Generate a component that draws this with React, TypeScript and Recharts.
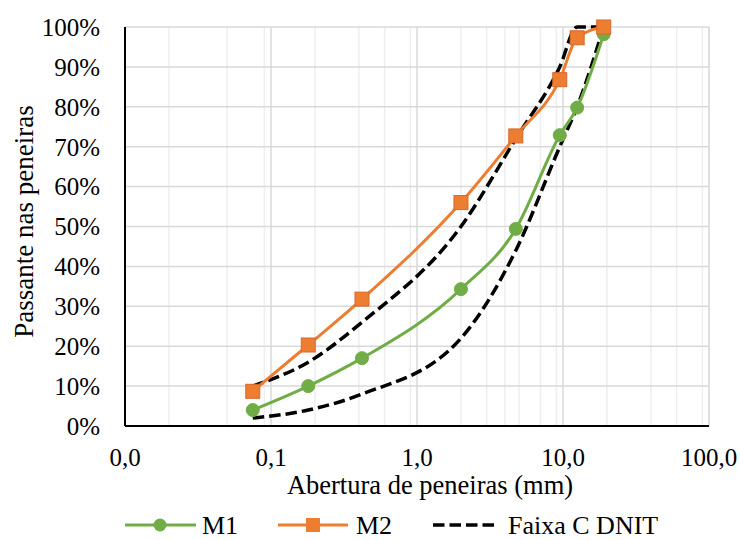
import { LineChart, Line, XAxis, YAxis, CartesianGrid, Legend } from 'recharts'

// Sieve openings (mm) and % passing
const sieves = [0.075, 0.18, 0.42, 2.0, 4.75, 9.5, 12.5, 19]
const m1 = [4, 10, 17, 34.3, 49.4, 72.9, 79.8, 98.2]
const m2 = [8.7, 20.3, 31.8, 56, 72.7, 86.8, 97.3, 100]
const faixaMin = [2, 4, 8, 22, 44, 70, 80, 100]
const faixaMax = [10, 16, 26, 50, 72, 90, 100, 100]

const xTicks = [0.01, 0.1, 1, 10, 100]
const minorTicks = [0.01, 0.1, 1, 10].flatMap((d) => [2, 3, 4, 5, 6, 7, 8, 9].map((k) => +(d * k).toPrecision(3)))
const yTicks = [0, 10, 20, 30, 40, 50, 60, 70, 80, 90, 100]

const GREEN = '#70AD47'
const ORANGE = '#ED7D31'
const FONT = "'Liberation Serif', 'Times New Roman', serif"

const data = sieves.map((x, i) => ({ x, m1: m1[i], m2: m2[i], min: faixaMin[i], max: faixaMax[i] }))

function SquareDot(props: any) {
  const { cx, cy } = props
  if (cx == null || cy == null) return null
  return <rect x={cx - 7} y={cy - 7} width={14} height={14} fill={ORANGE} stroke="#D8692A" strokeWidth={1} />
}

function LegendBox() {
  const y = 25
  const ts = { fontFamily: FONT, fontSize: 26 }
  return (
    <svg width={740} height={40} style={{ display: 'block' }}>
      <line x1={125} x2={196} y1={y} y2={y} stroke={GREEN} strokeWidth={3} />
      <circle cx={160} cy={y} r={6.5} fill={GREEN} />
      <text x={202} y={y + 9} style={ts}>M1</text>
      <line x1={278} x2={348} y1={y} y2={y} stroke={ORANGE} strokeWidth={3} />
      <rect x={306} y={y - 7} width={14} height={14} fill={ORANGE} />
      <text x={356} y={y + 9} style={ts}>M2</text>
      <line x1={433} x2={494} y1={y} y2={y} stroke="#000" strokeWidth={3.5} strokeDasharray="11.5 5" />
      <text x={508} y={y + 9} style={ts}>Faixa C DNIT</text>
    </svg>
  )
}

export default function App() {
  const tick = { fontSize: 25, fill: '#000', style: { fontFamily: FONT } }
  return (
    <div style={{ position: 'absolute', left: 0, top: 0, background: '#fff', fontFamily: FONT }}>
      <LineChart width={740} height={540} data={data} margin={{ top: 27, right: 31, left: 0, bottom: 0 }}>
        <XAxis xAxisId="minor" dataKey="x" type="number" scale="log" domain={[0.01, 100]} ticks={minorTicks} hide allowDataOverflow />
        <CartesianGrid xAxisId="minor" horizontal={false} stroke="#eeeeee" strokeWidth={1.5} />
        <CartesianGrid stroke="#d9d9d9" strokeWidth={1.5} />
        <XAxis
          dataKey="x"
          type="number"
          scale="log"
          domain={[0.01, 100]}
          ticks={xTicks}
          allowDataOverflow
          height={74}
          tickLine={false}
          tickSize={0}
          tickMargin={22}
          axisLine={{ stroke: '#000', strokeWidth: 2 }}
          tick={tick}
          tickFormatter={(v: number) => v.toFixed(1).replace('.', ',')}
          label={{ value: 'Abertura de peneiras (mm)', position: 'insideBottom', offset: 6, dx: 13, fontSize: 26.5, fill: '#000', style: { fontFamily: FONT } }}
        />
        <XAxis xAxisId="top" orientation="top" dataKey="x" type="number" scale="log" domain={[0.01, 100]} height={0} tick={false} tickLine={false} axisLine={{ stroke: '#000', strokeWidth: 2 }} />
        <YAxis
          domain={[0, 100]}
          ticks={yTicks}
          width={125}
          tickLine={false}
          tickSize={0}
          tickMargin={25}
          axisLine={{ stroke: '#000', strokeWidth: 2 }}
          tick={tick}
          tickFormatter={(v: number) => `${v}%`}
          label={(p: any) => {
            const vb = p.viewBox
            const cy = vb.y + vb.height / 2 - 5
            return (
              <text x={33} y={cy} transform={`rotate(-90, 33, ${cy})`} textAnchor="middle" style={{ fontFamily: FONT }} fontSize={27} fill="#000">
                Passante nas peneiras
              </text>
            )
          }}
        />
        <YAxis yAxisId="right" orientation="right" domain={[0, 100]} width={0} tick={false} tickLine={false} axisLine={{ stroke: '#000', strokeWidth: 2 }} />
        <Line dataKey="min" type="monotone" stroke="#000" strokeWidth={3.5} strokeDasharray="11.5 5" dot={false} isAnimationActive={false} />
        <Line dataKey="max" type="monotone" stroke="#000" strokeWidth={3.5} strokeDasharray="11.5 5" dot={false} isAnimationActive={false} />
        <Line dataKey="m1" type="monotone" stroke={GREEN} strokeWidth={3} dot={{ r: 6.5, fill: GREEN, stroke: GREEN, strokeWidth: 1 }} isAnimationActive={false} />
        <Line dataKey="m2" type="monotone" stroke={ORANGE} strokeWidth={3} dot={<SquareDot />} isAnimationActive={false} />
        <Legend verticalAlign="bottom" content={() => <LegendBox />} wrapperStyle={{ left: 0, width: 740, bottom: 0 }} />
      </LineChart>
    </div>
  )
}
